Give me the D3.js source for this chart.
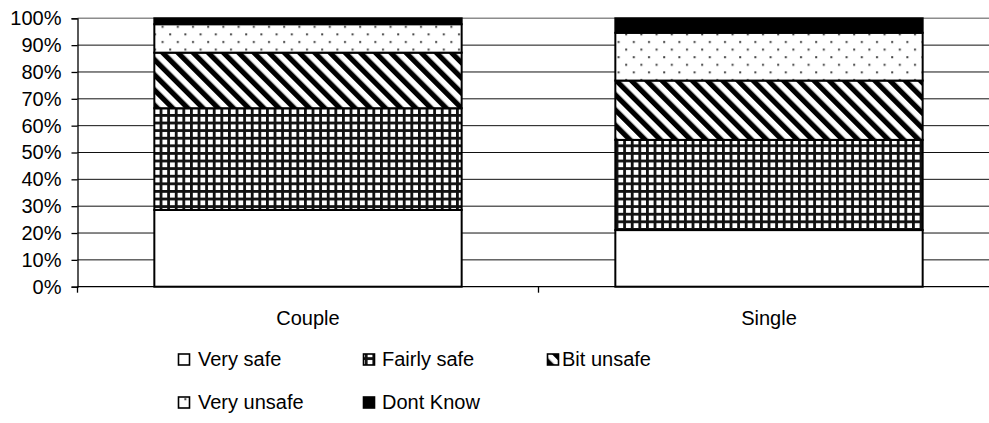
<!DOCTYPE html>
<html>
<head>
<meta charset="utf-8">
<script src="https://cdn.jsdelivr.net/npm/d3@7"></script>
<style>
  html, body { margin: 0; padding: 0; background: #fff; }
  svg { display: block; }
  text { font-family: "Liberation Sans", Arial, sans-serif; font-size: 20px; fill: #000; }
</style>
</head>
<body>
<svg id="chart" width="989" height="423"></svg>
<script>
// Household type
const categories = ["Couple", "Single"];

// Share of respondents (%) in each safety rating
const seriesNames = ["Very safe", "Fairly safe", "Bit unsafe", "Very unsafe", "Dont Know"];
const verySafe   = [28.6, 21.1];
const fairlySafe = [37.9, 33.6];
const bitUnsafe  = [20.7, 22.1];
const veryUnsafe = [10.6, 17.8];
const dontKnow   = [2.2, 5.4];

const yTicks = [0, 10, 20, 30, 40, 50, 60, 70, 80, 90, 100];

const seriesValues = [verySafe, fairlySafe, bitUnsafe, veryUnsafe, dontKnow];
const rows = categories.map((c, i) => {
  const r = { category: c };
  seriesNames.forEach((s, k) => { r[s] = seriesValues[k][i]; });
  return r;
});

const svg = d3.select("#chart");
const plot = { left: 77.5, right: 999.5, top: 18.3, bottom: 286.7 };

const x = d3.scaleBand()
  .domain(categories)
  .range([plot.left, plot.right])
  .paddingInner(1 / 3)
  .paddingOuter(1 / 6);

const y = d3.scaleLinear().domain([0, 100]).range([plot.bottom, plot.top]);

// Fill patterns for the series
const defs = svg.append("defs");

const grid = defs.append("pattern")
  .attr("id", "p-grid").attr("patternUnits", "userSpaceOnUse")
  .attr("width", 7.6).attr("height", 7.6);
grid.append("rect").attr("width", 7.6).attr("height", 7.6).attr("fill", "#fff");
grid.append("rect").attr("x", 0).attr("y", 0).attr("width", 2.8).attr("height", 7.6).attr("fill", "#111");
grid.append("rect").attr("x", 0).attr("y", 0).attr("width", 7.6).attr("height", 2.8).attr("fill", "#111");

const diag = defs.append("pattern")
  .attr("id", "p-diag").attr("patternUnits", "userSpaceOnUse")
  .attr("width", 10.75).attr("height", 10.75)
  .attr("patternTransform", "rotate(-45)");
diag.append("rect").attr("width", 10.75).attr("height", 10.75).attr("fill", "#fff");
diag.append("rect").attr("x", 0).attr("width", 5.2).attr("height", 10.75).attr("fill", "#000");

const dots = defs.append("pattern")
  .attr("id", "p-dots").attr("patternUnits", "userSpaceOnUse")
  .attr("width", 15.2).attr("height", 15.2);
dots.append("rect").attr("width", 15.2).attr("height", 15.2).attr("fill", "#fff");
dots.append("rect").attr("x", 2).attr("y", 3).attr("width", 2).attr("height", 2).attr("fill", "#444");
dots.append("rect").attr("x", 9.6).attr("y", 10.6).attr("width", 2).attr("height", 2).attr("fill", "#444");

const fills = {
  "Very safe": "#fff",
  "Fairly safe": "url(#p-grid)",
  "Bit unsafe": "url(#p-diag)",
  "Very unsafe": "url(#p-dots)",
  "Dont Know": "#000"
};

// Gridlines
svg.append("g")
  .selectAll("line")
  .data(yTicks.filter(t => t > 0 && t < 100))
  .join("line")
  .attr("x1", plot.left).attr("x2", plot.right)
  .attr("y1", d => y(d)).attr("y2", d => y(d))
  .attr("stroke", "#111").attr("stroke-width", 1);

// Plot area top border
svg.append("line")
  .attr("x1", plot.left).attr("x2", plot.right)
  .attr("y1", y(100)).attr("y2", y(100))
  .attr("stroke", "#8c8c8c").attr("stroke-width", 1.6);

// Stacked bars
const stack = d3.stack().keys(seriesNames)(rows);
svg.append("g")
  .selectAll("g")
  .data(stack)
  .join("g")
  .attr("fill", d => fills[d.key])
  .selectAll("rect")
  .data(d => d)
  .join("rect")
  .attr("x", d => x(d.data.category))
  .attr("width", x.bandwidth())
  .attr("y", d => y(d[1]))
  .attr("height", d => y(d[0]) - y(d[1]))
  .attr("stroke", "#000")
  .attr("stroke-width", 2);

// Y axis
const yAxis = svg.append("g")
  .attr("transform", `translate(${plot.left},0)`)
  .call(d3.axisLeft(y).tickValues(yTicks).tickFormat(d => d + "%").tickSize(6).tickPadding(10));
yAxis.select(".domain").attr("stroke", "#000").attr("stroke-width", 1.3);
yAxis.selectAll(".tick line").attr("stroke", "#000").attr("stroke-width", 1.3);
yAxis.selectAll(".tick text")
  .attr("font-family", "Liberation Sans, Arial, sans-serif")
  .attr("font-size", 20).attr("fill", "#000");

// X axis: tick marks sit on category boundaries
const xBase = svg.append("g");
xBase.append("line")
  .attr("x1", plot.left).attr("x2", plot.right)
  .attr("y1", plot.bottom).attr("y2", plot.bottom)
  .attr("stroke", "#000").attr("stroke-width", 1.3);
const boundaries = [plot.left].concat(categories.slice(1).map(c => x(c) - x.step() * x.paddingInner() / 2), [plot.right]);
xBase.selectAll("line.tk")
  .data(boundaries)
  .join("line").attr("class", "tk")
  .attr("x1", d => d).attr("x2", d => d)
  .attr("y1", plot.bottom).attr("y2", plot.bottom + 6)
  .attr("stroke", "#000").attr("stroke-width", 1.3);
xBase.selectAll("text")
  .data(categories)
  .join("text")
  .attr("x", d => x(d) + x.bandwidth() / 2)
  .attr("y", 325)
  .attr("text-anchor", "middle")
  .text(d => d);

// Legend
const legendPos = [
  { sx: 178.5, tx: 198, sy: 354, ty: 366 },
  { sx: 363.5, tx: 382, sy: 354, ty: 366 },
  { sx: 547.5, tx: 562, sy: 354, ty: 366 },
  { sx: 178.5, tx: 198, sy: 397, ty: 409 },
  { sx: 363.5, tx: 382, sy: 397, ty: 409 }
];
const legend = svg.append("g")
  .selectAll("g")
  .data(seriesNames)
  .join("g");
legend.append("rect")
  .attr("x", (d, i) => legendPos[i].sx)
  .attr("y", (d, i) => legendPos[i].sy)
  .attr("width", 11).attr("height", 11)
  .attr("fill", d => fills[d])
  .attr("stroke", "#000").attr("stroke-width", 1.6);
legend.append("text")
  .attr("x", (d, i) => legendPos[i].tx)
  .attr("y", (d, i) => legendPos[i].ty)
  .text(d => d);
</script>
</body>
</html>
